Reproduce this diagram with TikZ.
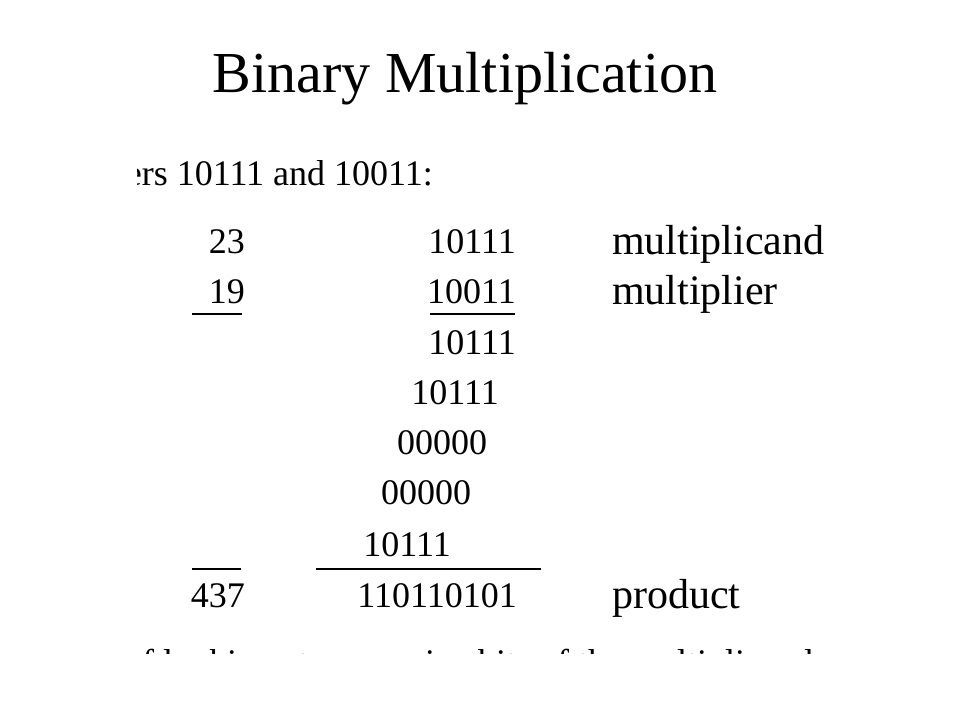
\documentclass[tikz,border=0pt]{standalone}
\usepackage{fontspec}
\setmainfont{Liberation Serif}
\begin{document}
\begin{tikzpicture}[x=1pt,y=-1pt,
  numr/.style={inner sep=0pt, anchor=base east, font=\fontsize{36}{42}\selectfont},
  numl/.style={inner sep=0pt, anchor=base west, font=\fontsize{36}{42}\selectfont},
  lbl/.style={inner sep=0pt, anchor=base west, font=\fontsize{42}{48}\selectfont},
  rulebar/.style={line width=1.8pt}]
\useasboundingbox[fill=white] (0,0) rectangle (960,720);
\node[inner sep=0pt, anchor=base, font=\fontsize{58}{66}\selectfont] (title) at (465,92) {Binary Multiplication};
% partial line above
\begin{scope}
\clip (137,140) rectangle (700,205);
\node[numr] (intro) at (433,185) {numbers 10111 and 10011:};
\end{scope}
% decimal column
\node[numr] (d1) at (245,253) {23};
\node[numr] (d2) at (245,303) {19};
\node[numr] (d3) at (245,607) {437};
\draw[rulebar] (192,314) -- (242,314);
\draw[rulebar] (192,569) -- (241,569);
% binary column
\node[numr] (b1) at (516,253) {10111};
\node[numr] (b2) at (516,303) {10011};
\draw[rulebar] (430,314) -- (515,314);
\node[numr] (p1) at (516,354) {10111};
\node[numr] (p2) at (499,404) {10111};
\node[numl] (p3) at (397,454) {00000};
\node[numl] (p4) at (381,504) {00000};
\node[numr] (p5) at (451,556) {10111};
\draw[rulebar] (316,569) -- (541,569);
\node[numr] (prod) at (517,607) {110110101};
% labels
\node[lbl] (l1) at (612,254) {multiplicand};
\node[lbl] (l2) at (612,304) {multiplier};
\node[lbl] (l3) at (612,608) {product};
% partial line below
\begin{scope}
\clip (133,600) rectangle (845,653);
\node[numl] (cont) at (124,674) {of looking at successive bits of the multiplicand};
\end{scope}
\end{tikzpicture}
\end{document}
